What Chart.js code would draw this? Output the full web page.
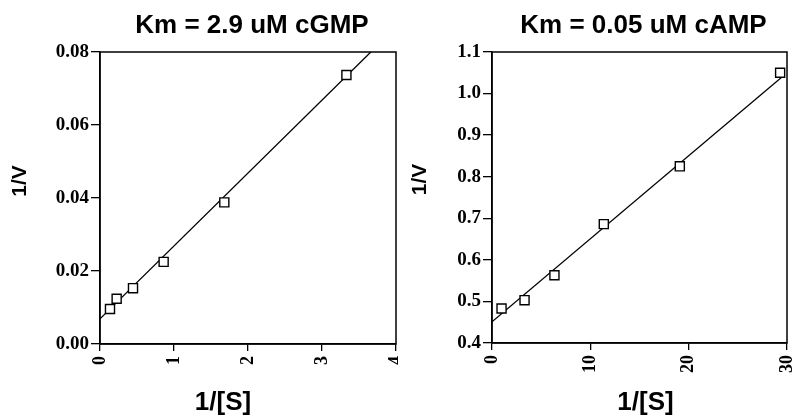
<!DOCTYPE html>
<html>
<head>
<meta charset="utf-8">
<script src="https://cdn.jsdelivr.net/npm/chart.js@4"></script>
<style>
  body { margin: 0; background: #fff; }
  #wrap { position: relative; width: 796px; height: 417px; overflow: hidden; }
  .panel { position: absolute; top: 0; width: 398px; height: 417px; overflow: hidden; }
</style>
</head>
<body>
<div id="wrap">
  <div class="panel" style="left:0"><canvas id="left" width="426" height="417"></canvas></div>
  <div class="panel" style="left:398px"><canvas id="right" width="426" height="417"></canvas></div>
</div>
<script>
// cGMP panel
var sInvG = [0.135, 0.225, 0.446, 0.86, 1.68, 3.33];
var vInvG = [0.0096, 0.0124, 0.0153, 0.0225, 0.0388, 0.0737];
var fitXG = [0, 3.66];
var fitYG = [0.0069, 0.08];
var xTicksG = [0, 1, 2, 3, 4];
var yTicksG = [0, 0.02, 0.04, 0.06, 0.08];

// cAMP panel
var sInvA = [0.97, 3.31, 6.35, 11.37, 19.1, 29.3];
var vInvA = [0.483, 0.503, 0.563, 0.686, 0.825, 1.050];
var fitXA = [0, 29.7];
var fitYA = [0.451, 1.044];
var xTicksA = [0, 10, 20, 30];
var yTicksA = [0.4, 0.5, 0.6, 0.7, 0.8, 0.9, 1.0, 1.1];

var sans = '"Liberation Sans", Arial, sans-serif';
var serif = '"Liberation Serif", "Times New Roman", serif';

// box round the plot area
var frame = {
    id: 'frame',
    afterDraw: function (chart) {
        var a = chart.chartArea, ctx = chart.ctx;
        ctx.save();
        ctx.strokeStyle = '#000';
        ctx.lineWidth = 1.5;
        ctx.strokeRect(a.left, a.top, a.right - a.left, a.bottom - a.top);
        ctx.restore();
    }
};

// panel title + axis titles, placed relative to the plot area like the original
var labels = {
    id: 'labels',
    afterDraw: function (chart, args, o) {
        var a = chart.chartArea, ctx = chart.ctx;
        var cx = (a.left + a.right) / 2;
        ctx.save();
        ctx.fillStyle = '#000';
        ctx.textAlign = 'center';
        ctx.textBaseline = 'middle';
        ctx.font = 'bold 26px ' + sans;
        ctx.fillText(o.title, cx + o.titleShift, 26);
        ctx.fillText(o.xText, cx + o.xShift, 403);
        ctx.translate(o.yX, (a.top + a.bottom) / 2 + o.yShift);
        ctx.rotate(-Math.PI / 2);
        ctx.font = 'bold 21px ' + sans;
        ctx.fillText(o.yText, 0, 0);
        ctx.restore();
    }
};

function points(xs, ys) {
    return xs.map(function (x, i) { return { x: x, y: ys[i] }; });
}

function makeChart(id, cfg) {
    new Chart(document.getElementById(id), {
        type: 'scatter',
        data: {
            datasets: [{
                data: points(cfg.fitX, cfg.fitY),
                showLine: true,
                borderColor: '#000',
                borderWidth: 1.3,
                pointRadius: 0,
                order: 2
            }, {
                data: points(cfg.xs, cfg.ys),
                pointStyle: 'rect',
                pointRadius: 6.4,
                pointBackgroundColor: '#fff',
                pointBorderColor: '#000',
                pointBorderWidth: 1.4,
                order: 1
            }]
        },
        options: {
            responsive: false,
            animation: false,
            devicePixelRatio: 1,
            layout: { padding: { left: 0, right: cfg.padRight, top: 52, bottom: 0 } },
            plugins: {
                legend: { display: false },
                tooltip: { enabled: false },
                labels: cfg.labels
            },
            scales: {
                x: {
                    type: 'linear',
                    min: cfg.xTicks[0],
                    max: cfg.xTicks[cfg.xTicks.length - 1],
                    afterBuildTicks: function (s) { s.ticks = cfg.xTicks.map(function (v) { return { value: v }; }); },
                    afterFit: function (s) { s.height = cfg.xHeight; },
                    grid: { display: true, drawOnChartArea: false, drawTicks: true, tickLength: 7, color: '#000', lineWidth: 1.3 },
                    border: { display: true, color: '#000', width: 1.5 },
                    ticks: {
                        autoSkip: false, minRotation: 90, maxRotation: 90, padding: 5, color: '#000',
                        font: { family: serif, weight: 'bold', size: 18 },
                        callback: function (v) { return String(v); }
                    }
                },
                y: {
                    type: 'linear',
                    min: cfg.yTicks[0],
                    max: cfg.yTicks[cfg.yTicks.length - 1],
                    afterBuildTicks: function (s) { s.ticks = cfg.yTicks.map(function (v) { return { value: v }; }); },
                    afterFit: function (s) { s.width = cfg.yWidth; },
                    grid: { display: true, drawOnChartArea: false, drawTicks: true, tickLength: 9, color: '#000', lineWidth: 1.3 },
                    border: { display: true, color: '#000', width: 1.5 },
                    ticks: {
                        autoSkip: false, padding: 2, color: '#000',
                        font: { family: serif, weight: 'bold', size: 19 },
                        callback: function (v) { return v.toFixed(cfg.yDecimals); }
                    }
                }
            }
        },
        plugins: [frame, labels]
    });
}

// canvases are 426 wide and clipped to 398, so the last x label is cut like in the original
makeChart('left', {
    xs: sInvG, ys: vInvG, fitX: fitXG, fitY: fitYG,
    xTicks: xTicksG, yTicks: yTicksG, yDecimals: 2,
    yWidth: 100, xHeight: 73, padRight: 30,
    labels: { title: 'Km = 2.9 uM cGMP', titleShift: 4, xText: '1/[S]', xShift: -25, yText: '1/V', yX: 20, yShift: -17 }
});

makeChart('right', {
    xs: sInvA, ys: vInvA, fitX: fitXA, fitY: fitYA,
    xTicks: xTicksA, yTicks: yTicksA, yDecimals: 1,
    yWidth: 94, xHeight: 74, padRight: 37,
    labels: { title: 'Km = 0.05 uM cAMP', titleShift: 4, xText: '1/[S]', xShift: 6, yText: '1/V', yX: 22, yShift: -18 }
});
</script>
</body>
</html>
